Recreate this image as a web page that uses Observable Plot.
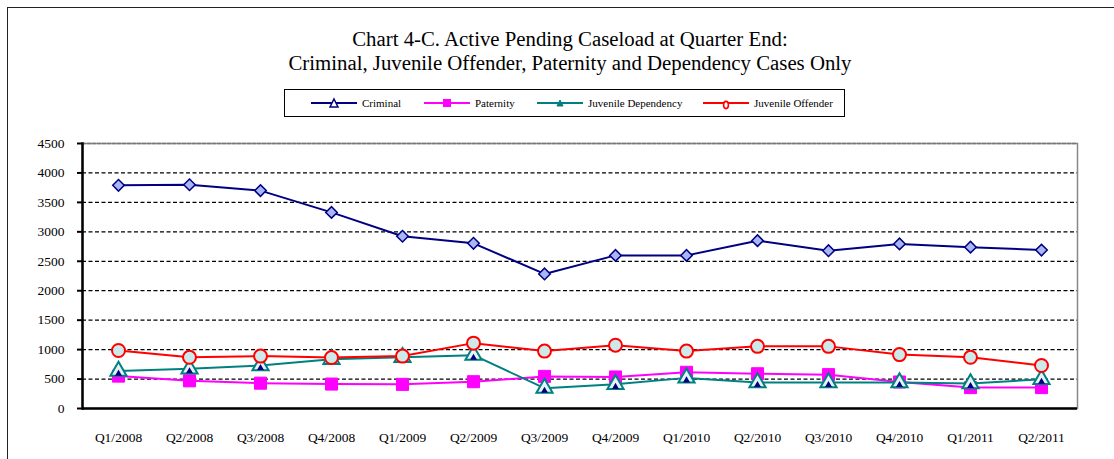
<!DOCTYPE html>
<html>
<head>
<meta charset="utf-8">
<script src="https://cdn.jsdelivr.net/npm/d3@7"></script>
<script src="https://cdn.jsdelivr.net/npm/@observablehq/plot@0.6"></script>
<style>
  html, body { margin: 0; padding: 0; background: #fff; }
  #wrap { position: relative; width: 1114px; height: 459px; overflow: hidden; font-family: "Liberation Serif", "DejaVu Serif", serif; }
  #frameBox { position: absolute; left: 7px; top: 7px; width: 1200px; height: 600px; border: 1.5px solid #222; box-sizing: border-box; }
  #title { position: absolute; left: 0; width: 1140px; top: 27px; text-align: center; font-size: 20.8px; line-height: 24px; color: #000; }
  #legend { position: absolute; left: 284px; top: 89px; width: 561px; height: 28px; border: 1.5px solid #000; box-sizing: border-box; }
  #legend .item { position: absolute; top: 0; height: 25px; display: flex; align-items: center; font-size: 11px; }
  #legend svg { display: block; margin-right: 5px; }
  #chart { position: absolute; left: 0; top: 0; }
</style>
</head>
<body>
<div id="wrap">
  <div id="frameBox"></div>
  <div id="chart"></div>
  <div id="title">Chart 4-C. Active Pending Caseload at Quarter End:<br>Criminal, Juvenile Offender, Paternity and Dependency Cases Only</div>
  <div id="legend"></div>
</div>
<script>
const quarters = ["Q1/2008","Q2/2008","Q3/2008","Q4/2008","Q1/2009","Q2/2009","Q3/2009","Q4/2009","Q1/2010","Q2/2010","Q3/2010","Q4/2010","Q1/2011","Q2/2011"];
const criminal = [3790, 3800, 3700, 3330, 2925, 2805, 2285, 2600, 2600, 2850, 2680, 2795, 2740, 2690];
const paternity = [550, 470, 430, 415, 410, 455, 545, 535, 615, 590, 575, 450, 355, 355];
const juvenileDependency = [635, 675, 730, 835, 870, 905, 345, 410, 520, 440, 440, 440, 425, 495];
const juvenileOffender = [985, 870, 890, 865, 890, 1110, 975, 1075, 975, 1055, 1055, 915, 870, 730];
const yTicks = [0, 500, 1000, 1500, 2000, 2500, 3000, 3500, 4000, 4500];
const seriesNames = ["Criminal", "Paternity", "Juvenile Dependency", "Juvenile Offender"];

const rows = (vals) => quarters.map((q, i) => ({q, v: vals[i]}));
const crim = rows(criminal), pat = rows(paternity), jd = rows(juvenileDependency), jo = rows(juvenileOffender);

const font = "Liberation Serif";
const chart = Plot.plot({
  width: 1114,
  height: 459,
  marginLeft: 82,
  marginRight: 37,
  marginTop: 143,
  marginBottom: 51,
  style: {fontFamily: font, background: "transparent", color: "#000"},
  x: {type: "point", domain: quarters, padding: 0.5},
  y: {domain: [0, 4500]},
  marks: [
    Plot.frame({stroke: "#888", strokeWidth: 1.5}),
    Plot.ruleY(yTicks.filter(d => d > 0 && d < 4500), {stroke: "#000", strokeWidth: 1.2, strokeDasharray: "4,2.5"}),
    Plot.ruleY([4500], {stroke: "#777", strokeWidth: 1.5, strokeDasharray: "4,1"}),
    Plot.frame({anchor: "left", stroke: "#000", strokeWidth: 2.5}),
    Plot.ruleY([0], {stroke: "#000", strokeWidth: 2.5}),
    Plot.axisY({ticks: yTicks, tickSize: 5, tickPadding: 13, tickFormat: d => String(d), fontSize: 13.5, fontFamily: font, stroke: "#000", strokeWidth: 2, label: null}),
    Plot.axisX({tickSize: 0, tickPadding: 24, fontSize: 13.5, fontFamily: font, label: null}),
    Plot.line(crim, {x: "q", y: "v", stroke: "#000080", strokeWidth: 2}),
    Plot.dot(crim, {x: "q", y: "v", symbol: "square", rotate: 45, r: 4.6, fill: "#a9b6f5", stroke: "#000080", strokeWidth: 1.5}),
    Plot.line(pat, {x: "q", y: "v", stroke: "#ff00ff", strokeWidth: 2}),
    Plot.dot(pat, {x: "q", y: "v", symbol: "square", r: 6.8, fill: "#ff00ff", stroke: "#ff00ff", strokeWidth: 1}),
    Plot.line(jd, {x: "q", y: "v", stroke: "#008080", strokeWidth: 2}),
    Plot.dot(jd, {x: "q", y: "v", symbol: "triangle", r: 6, fill: "#e6f4f7", stroke: "#008080", strokeWidth: 2}),
    Plot.dot(jd, {x: "q", y: "v", symbol: "triangle", r: 2.6, dy: 2.5, fill: "#000080", stroke: "none"}),
    Plot.line(jo, {x: "q", y: "v", stroke: "#ff0000", strokeWidth: 2}),
    Plot.dot(jo, {x: "q", y: "v", symbol: "circle", r: 6.5, fill: "#cdeaea", stroke: "#ff0000", strokeWidth: 2})
  ]
});
document.getElementById("chart").appendChild(chart);

// Legend
const legendItems = [
  {name: seriesNames[0], color: "#000080", x: 26, marker: "tri", mcolor: "#000080"},
  {name: seriesNames[1], color: "#ff00ff", x: 139, marker: "sq", mcolor: "#ff00ff"},
  {name: seriesNames[2], color: "#008080", x: 252, marker: "tri2", mcolor: "#008080"},
  {name: seriesNames[3], color: "#ff0000", x: 418, marker: "circ", mcolor: "#ff0000"}
];
const legend = document.getElementById("legend");
for (const it of legendItems) {
  const div = document.createElement("div");
  div.className = "item";
  div.style.left = it.x + "px";
  let m = "";
  if (it.marker === "tri") m = `<path d="M23,5 L27,13 L19,13 Z" fill="#fff" stroke="${it.mcolor}" stroke-width="1.5"/>`;
  if (it.marker === "sq") m = `<rect x="19" y="5" width="8" height="8" fill="${it.mcolor}"/>`;
  if (it.marker === "tri2") m = `<path d="M23,6 L26,12 L20,12 Z" fill="${it.mcolor}" stroke="${it.mcolor}" stroke-width="1"/>`;
  if (it.marker === "circ") m = `<ellipse cx="23" cy="11" rx="2.4" ry="3.6" fill="#fff" stroke="${it.mcolor}" stroke-width="1.6"/>`;
  div.innerHTML = `<svg width="46" height="18"><line x1="0" x2="46" y1="9" y2="9" stroke="${it.color}" stroke-width="2"/>${m}</svg><span>${it.name}</span>`;
  legend.appendChild(div);
}
</script>
</body>
</html>
